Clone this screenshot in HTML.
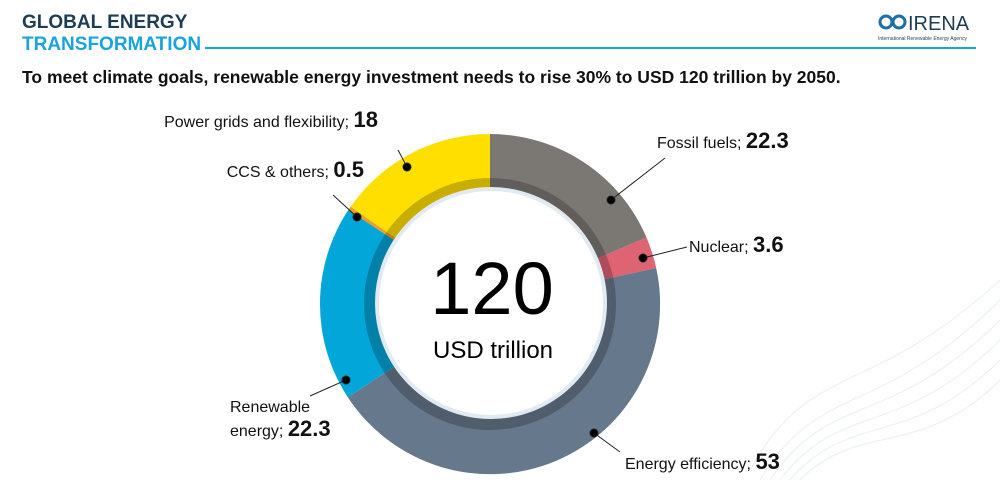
<!DOCTYPE html>
<html><head><meta charset="utf-8"><style>
body{margin:0;background:#fff;}
svg{display:block;font-family:"Liberation Sans",sans-serif;}
</style></head><body>
<svg width="1000" height="500" viewBox="0 0 1000 500">
<g fill="none" stroke="#e9eef3" stroke-width="1">
<path d="M760 480 C820 380 880 420 1000 300"/><path d="M770 480 C830 390 890 430 1000 320"/>
<path d="M780 480 C840 400 900 440 1000 340"/><path d="M790 480 C850 410 910 450 1000 360"/>
<path d="M800 480 C860 420 920 460 1000 380"/><path d="M750 470 C810 360 870 400 1000 280"/>
</g>
<text x="22" y="28" font-size="19" font-weight="bold" fill="#1d3d55">GLOBAL ENERGY</text>
<text x="22" y="50" font-size="19" font-weight="bold" fill="#1ba3dc">TRANSFORMATION</text>
<line x1="205" y1="48" x2="976" y2="48" stroke="#1ba3dc" stroke-width="2"/>
<g fill="none" stroke="#1d6fa8" stroke-width="3"><circle cx="886" cy="22" r="6"/><circle cx="899" cy="22" r="6"/></g>
<text x="908" y="30" font-size="20" fill="#1d3d55">IRENA</text>
<text x="878" y="40" font-size="5" fill="#1d3d55">International Renewable Energy Agency</text>
<text x="22" y="83" font-size="17.5" font-weight="bold" fill="#111">To meet climate goals, renewable energy investment needs to rise 30% to USD 120 trillion by 2050.</text>
<g transform="translate(490,304)">
<path d="M0,0 L0,-170 A170,170 0 0 1 156.5,-66.4 Z" fill="#7b7874"/>
<path d="M0,0 L156.5,-66.4 A170,170 0 0 1 166.2,-36.0 Z" fill="#de6373"/>
<path d="M0,0 L166.2,-36.0 A170,170 0 0 1 -142.2,93.2 Z" fill="#66788c"/>
<path d="M0,0 L-142.2,93.2 A170,170 0 0 1 -141.5,-94.2 Z" fill="#03a6d8"/>
<path d="M0,0 L-141.5,-94.2 A170,170 0 0 1 -139.3,-97.4 Z" fill="#f0a020"/>
<path d="M0,0 L-139.3,-97.4 A170,170 0 0 1 0,-170 Z" fill="#ffdf00"/>
<circle r="126" fill="rgba(0,0,0,0.22)"/>
<circle r="114" cx="1" cy="-1" fill="#fff" stroke="#e2eaf1" stroke-width="4"/>
</g>
<text x="492" y="314" font-size="74" text-anchor="middle" fill="#000">120</text>
<text x="493" y="358" font-size="24" text-anchor="middle" fill="#000">USD trillion</text>
<g stroke="#222" stroke-width="1" fill="#000">
<line x1="398" y1="150" x2="407" y2="167"/><circle cx="407" cy="167" r="4"/>
<line x1="333" y1="195" x2="357" y2="217"/><circle cx="357" cy="217" r="4"/>
<line x1="665" y1="158" x2="611" y2="200"/><circle cx="611" cy="200" r="4"/>
<line x1="687" y1="247" x2="643" y2="258"/><circle cx="643" cy="258" r="4"/>
<line x1="310" y1="396" x2="346" y2="380"/><circle cx="346" cy="380" r="4"/>
<line x1="620" y1="452" x2="594" y2="433"/><circle cx="594" cy="433" r="4"/>
</g>
<g font-size="16" fill="#111">
<text x="378" y="127" text-anchor="end">Power grids and flexibility; <tspan font-size="22" font-weight="bold">18</tspan></text>
<text x="364" y="177" text-anchor="end">CCS &amp; others; <tspan font-size="22" font-weight="bold">0.5</tspan></text>
<text x="657" y="148">Fossil fuels; <tspan font-size="22" font-weight="bold">22.3</tspan></text>
<text x="689" y="252">Nuclear; <tspan font-size="22" font-weight="bold">3.6</tspan></text>
<text x="230" y="412">Renewable</text>
<text x="230" y="436">energy; <tspan font-size="22" font-weight="bold">22.3</tspan></text>
<text x="625" y="469">Energy efficiency; <tspan font-size="22" font-weight="bold">53</tspan></text>
</g>
</svg>
</body></html>
